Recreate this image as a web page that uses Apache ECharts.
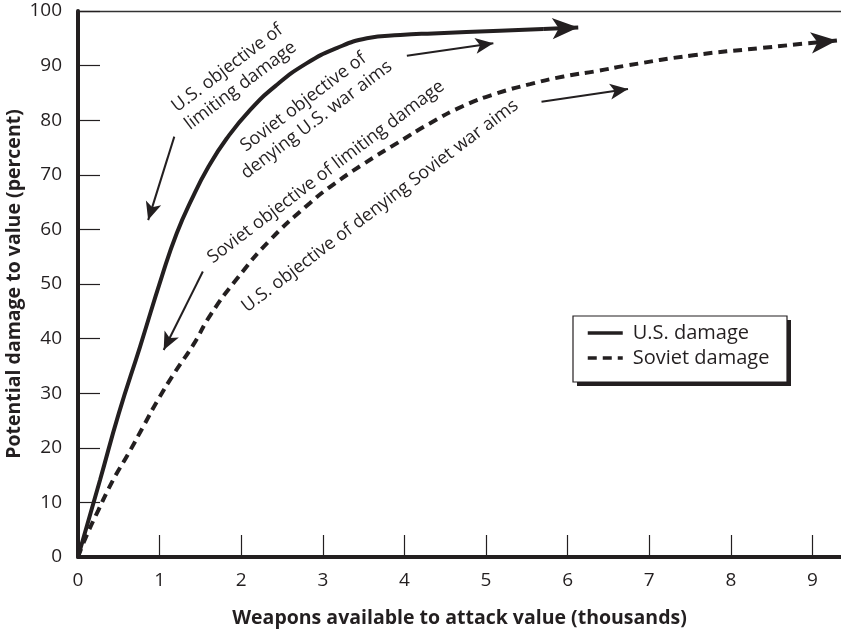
<!DOCTYPE html>
<html><head><meta charset="utf-8">
<script src="https://cdn.jsdelivr.net/npm/echarts@6/dist/echarts.min.js"></script>
<style>html,body{margin:0;padding:0;background:#fff}#c{width:841px;height:630px}</style>
</head><body><div id="c"></div>
<script>
const xTicks = [0, 1, 2, 3, 4, 5, 6, 7, 8, 9];
const yTicks = [0, 10, 20, 30, 40, 50, 60, 70, 80, 90, 100];

const usDamage = [[0,0],[0.27,14.1],[0.5,26.3],[0.76,38.5],[1.03,51.5],[1.21,59.3],[1.39,65.4],[1.60,71.5],[1.82,76.6],[2.11,81.9],[2.43,86.4],[2.80,90.4],[3.17,93.2],[3.54,95.0],[3.95,95.6],[4.35,95.9],[5.17,96.4],[5.7,96.7]];
const usArrowTip = [6.13, 97.0];

const sovietDamage = [[0,0],[0.09,3.4],[0.25,8.6],[0.43,14.1],[0.62,19.0],[0.80,23.9],[0.98,28.8],[1.19,33.9],[1.41,38.8],[1.63,44.5],[1.95,51.0],[2.35,58.0],[2.84,64.8],[3.09,67.8],[3.50,72.0],[3.91,75.8],[4.31,79.4],[4.72,82.6],[5.13,84.9],[5.54,86.6],[5.95,88.0],[6.36,89.0],[6.72,90.0],[7.54,91.9],[8.36,93.2],[8.95,94.1]];
const sovietArrowTip = [9.30, 94.6];

const arrowFrom = [[1.18,77.0],[1.53,52.3],[4.03,91.8],[5.68,83.4]];
const arrowTo   = [[0.86,61.7],[1.05,37.9],[5.09,94.1],[6.74,85.7]];

const annotationTexts = [
  'U.S. objective of\nlimiting damage',
  'Soviet objective of\ndenying U.S. war aims',
  'Soviet objective of limiting damage',
  'U.S. objective of denying Soviet war aims'
];
const seriesNames = ['U.S. damage', 'Soviet damage'];

const INK = '#231f20';
const FONT = '"Open Sans", "Noto Sans", sans-serif';

const chart = echarts.init(document.getElementById('c'), null, {renderer: 'canvas'});
const rot = 37 * Math.PI / 180;
const textPos = [[234, 77], [310, 111], [326, 172], [380, 206]];

const annotationGraphics = annotationTexts.map((t, i) => ({
  type: 'text', x: textPos[i][0], y: textPos[i][1], rotation: rot, z: 10,
  style: {text: t, fill: INK, font: '18px ' + FONT, align: 'center', verticalAlign: 'middle', lineHeight: 22}
}));
const legendBox = [
  {type: 'rect', z: 1, shape: {x: 577, y: 320, width: 214, height: 66}, style: {fill: INK}},
  {type: 'rect', z: 2, shape: {x: 573, y: 316, width: 214, height: 66}, style: {fill: '#fff', stroke: INK, lineWidth: 1.2}}
];

const option = {
  animation: false,
  backgroundColor: '#fff',
  grid: {left: 78, right: 0, top: 11, bottom: 73, containLabel: false, outerBoundsMode: 'none'},
  xAxis: [{
    type: 'value', min: 0, max: 9.35, position: 'bottom',
    name: 'Weapons available to attack value (thousands)',
    nameLocation: 'middle', nameGap: 51, nameMoveOverlap: false,
    nameTextStyle: {fontFamily: FONT, fontWeight: 'bold', fontSize: 19.5, color: INK},
    axisLine: {show: true, onZero: false, lineStyle: {color: INK, width: 4}},
    axisTick: {show: true, inside: true, length: 22, customValues: xTicks, lineStyle: {color: INK, width: 1.2}},
    axisLabel: {customValues: xTicks, margin: 14, fontFamily: FONT, fontSize: 19, color: INK},
    splitLine: {show: false}
  }, {
    type: 'value', min: 0, max: 9.35, position: 'top',
    axisLine: {show: true, onZero: false, lineStyle: {color: '#333', width: 1.3}},
    axisTick: {show: false}, axisLabel: {show: false}, splitLine: {show: false}
  }],
  yAxis: {
    type: 'value', min: 0, max: 100,
    name: 'Potential damage to value (percent)',
    nameLocation: 'middle', nameGap: 54, nameRotate: 90, nameMoveOverlap: false,
    nameTextStyle: {fontFamily: FONT, fontWeight: 'bold', fontSize: 19.5, color: INK},
    axisLine: {show: true, onZero: false, lineStyle: {color: INK, width: 4}},
    axisTick: {show: true, inside: true, length: 22, customValues: yTicks, lineStyle: {color: INK, width: 1.2}},
    axisLabel: {customValues: yTicks, margin: 16, fontFamily: FONT, fontSize: 19, color: INK},
    splitLine: {show: false}
  },
  legend: {
    data: seriesNames, z: 5,
    orient: 'vertical', left: 574, top: 319,
    padding: [4, 10, 4, 12],
    itemWidth: 35, itemHeight: 14, itemGap: 5,
    itemStyle: {opacity: 0, borderWidth: 0},
    lineStyle: {width: 3.5},
    textStyle: {fontFamily: FONT, fontSize: 20, color: INK, padding: [0, 0, 0, 5]}
  },
  graphic: annotationGraphics.concat(legendBox),
  series: [{
    name: seriesNames[0], type: 'line', data: usDamage, smooth: 0.5, symbol: 'none',
    lineStyle: {color: INK, width: 4, type: 'solid'}, itemStyle: {color: INK},
    markLine: {
      silent: true, symbol: ['none', 'arrow'], symbolSize: [16, 26], label: {show: false},
      lineStyle: {color: INK, width: 4, type: 'solid'},
      data: [[{coord: usDamage[usDamage.length - 1]}, {coord: usArrowTip}]]
    }
  }, {
    name: seriesNames[1], type: 'line', data: sovietDamage, smooth: 0.5, symbol: 'none',
    lineStyle: {color: INK, width: 4, type: [9, 6]}, itemStyle: {color: INK},
    markLine: {
      silent: true, symbol: ['none', 'arrow'], symbolSize: [16, 26], label: {show: false},
      lineStyle: {color: INK, width: 4, type: 'solid'},
      data: [[{coord: sovietDamage[sovietDamage.length - 1]}, {coord: sovietArrowTip}]]
    }
  }, {
    name: 'annotations', type: 'line', data: [], symbol: 'none',
    markLine: {
      silent: true, symbol: ['none', 'arrow'], symbolSize: [12, 18], label: {show: false},
      lineStyle: {color: INK, width: 2, type: 'solid'},
      data: arrowFrom.map((f, i) => [{coord: f}, {coord: arrowTo[i]}])
    }
  }]
};
chart.setOption(option);
</script></body></html>
